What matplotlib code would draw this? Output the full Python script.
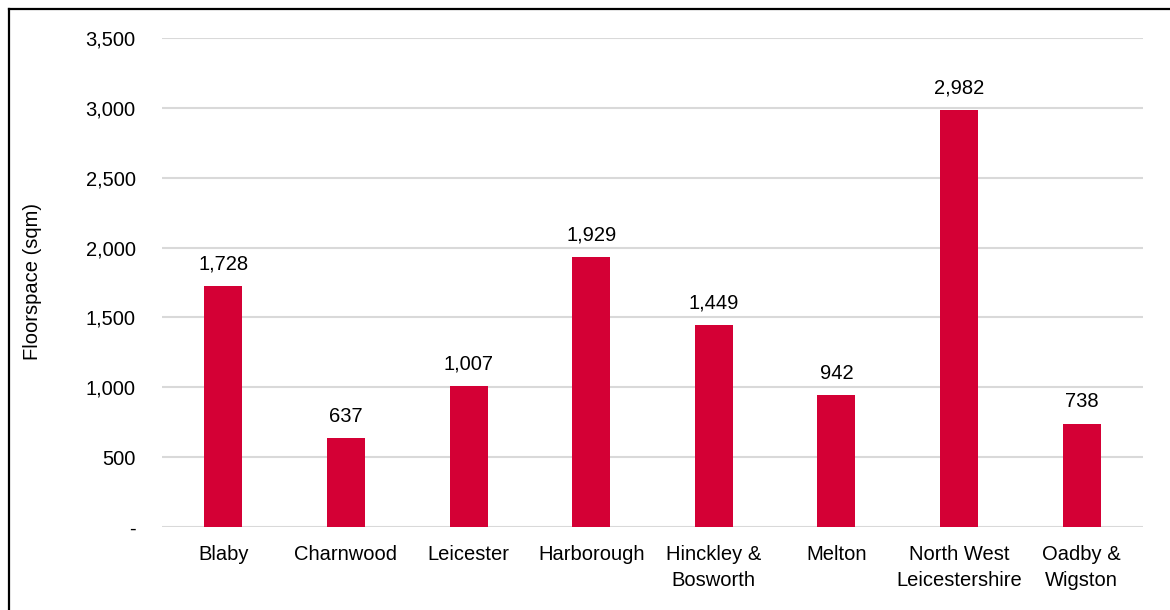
import matplotlib.pyplot as plt
from matplotlib.ticker import FuncFormatter
from matplotlib.lines import Line2D

categories = ["Blaby", "Charnwood", "Leicester", "Harborough", "Hinckley &\nBosworth",
              "Melton", "North West\nLeicestershire", "Oadby &\nWigston"]
values = [1728, 637, 1007, 1929, 1449, 942, 2982, 738]
y_ticks = [0, 500, 1000, 1500, 2000, 2500, 3000, 3500]

plt.rcParams['font.family'] = ['Liberation Sans', 'DejaVu Sans']
FS = 14.5

fig = plt.figure(figsize=(11.7, 6.1), dpi=100)
ax = fig.add_axes([162/1170, 1 - 527/610, (1143-162)/1170, (527-38)/610])

x = range(len(categories))
bars = ax.bar(x, values, width=0.31, color='#D40035', zorder=3)
ax.set_xlim(-0.5, len(categories) - 0.5)
ax.set_ylim(0, 3500)
ax.set_yticks(y_ticks)
ax.yaxis.set_major_formatter(FuncFormatter(lambda v, p: '-' if v == 0 else f'{int(v):,}'))
ax.set_xticks(list(x))
ax.set_xticklabels(categories, fontsize=FS, linespacing=1.45)
ax.tick_params(axis='y', labelsize=FS, length=0, pad=19)
ax.tick_params(axis='x', length=0, pad=13)
ax.grid(axis='y', color='#D9D9D9', linewidth=1.5, zorder=0)
ax.set_axisbelow(True)
for s in ax.spines.values():
    s.set_visible(False)

for xi, v in zip(x, values):
    ax.annotate(f'{v:,}', (xi, v), xytext=(0, 9), textcoords='offset points',
                ha='center', va='bottom', fontsize=FS)

fig.text(33/1170, 1 - 282/610, 'Floorspace (sqm)', rotation=90, ha='center', va='center', fontsize=FS)

# figure border (top and left visible)
fig.add_artist(Line2D([8.5/1170, 8.5/1170], [0, 1 - 8.5/610], transform=fig.transFigure, color='black', linewidth=1.6))
fig.add_artist(Line2D([8.5/1170, 1], [1 - 8.5/610, 1 - 8.5/610], transform=fig.transFigure, color='black', linewidth=1.6))

fig.savefig('out.png', dpi=100)
